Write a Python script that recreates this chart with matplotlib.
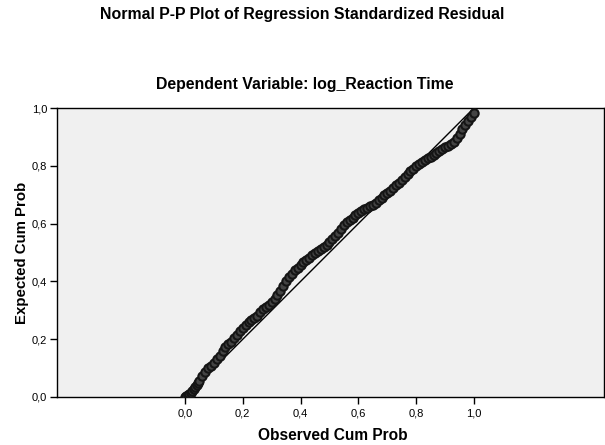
import matplotlib
matplotlib.use("Agg")
import matplotlib.pyplot as plt
from matplotlib.ticker import FuncFormatter

# --- Data ---
observed = [0.000, 0.005, 0.010, 0.015, 0.020, 0.025, 0.030, 0.035, 0.040, 0.045,
            0.050, 0.060, 0.070, 0.080, 0.090, 0.100, 0.110, 0.120, 0.130, 0.140,
            0.150, 0.160, 0.170, 0.180, 0.190, 0.200, 0.210, 0.220, 0.230, 0.240,
            0.250, 0.260, 0.270, 0.280, 0.290, 0.300, 0.310, 0.320, 0.330, 0.340,
            0.350, 0.360, 0.370, 0.380, 0.390, 0.400, 0.410, 0.420, 0.430, 0.440,
            0.450, 0.460, 0.470, 0.480, 0.490, 0.500, 0.510, 0.520, 0.530, 0.540,
            0.550, 0.560, 0.570, 0.580, 0.590, 0.600, 0.610, 0.620, 0.630, 0.640,
            0.650, 0.660, 0.670, 0.680, 0.690, 0.700, 0.710, 0.720, 0.730, 0.740,
            0.750, 0.760, 0.770, 0.780, 0.790, 0.800, 0.810, 0.820, 0.830, 0.840,
            0.850, 0.860, 0.870, 0.880, 0.890, 0.900, 0.910, 0.920, 0.930, 0.940,
            0.950, 0.960, 0.970, 0.980, 0.990, 1.000]
expected = [0.000, 0.003, 0.006, 0.010, 0.014, 0.020, 0.026, 0.033, 0.040, 0.048,
            0.056, 0.072, 0.088, 0.100, 0.108, 0.118, 0.130, 0.143, 0.158, 0.172,
            0.183, 0.192, 0.203, 0.216, 0.228, 0.240, 0.250, 0.258, 0.265, 0.272,
            0.282, 0.295, 0.305, 0.312, 0.320, 0.330, 0.340, 0.352, 0.366, 0.385,
            0.400, 0.414, 0.426, 0.438, 0.446, 0.456, 0.466, 0.474, 0.482, 0.490,
            0.497, 0.504, 0.512, 0.520, 0.527, 0.535, 0.545, 0.556, 0.568, 0.582,
            0.594, 0.604, 0.612, 0.620, 0.630, 0.638, 0.645, 0.650, 0.655, 0.660,
            0.666, 0.673, 0.682, 0.690, 0.698, 0.706, 0.714, 0.722, 0.732, 0.742,
            0.752, 0.762, 0.772, 0.781, 0.790, 0.798, 0.806, 0.814, 0.820, 0.826,
            0.832, 0.838, 0.845, 0.852, 0.858, 0.864, 0.870, 0.876, 0.884, 0.895,
            0.910, 0.926, 0.942, 0.956, 0.968, 0.982]
ref_line = [0.0, 1.0]
ticks = [0.0, 0.2, 0.4, 0.6, 0.8, 1.0]

plt.rcParams['font.family'] = ['Liberation Sans', 'DejaVu Sans']

fig = plt.figure(figsize=(6.05, 4.45), dpi=100)
ax = fig.add_axes([57 / 605, 48 / 445, 547 / 605, 289 / 445])
ax.set_facecolor('#f0f0f0')

ax.plot(ref_line, ref_line, color='black', linewidth=1.0, zorder=2)
ax.scatter(observed, expected, s=36, facecolors='#444444', edgecolors='#151515',
           linewidths=1.5, zorder=3)

ax.set_xlim(-0.443, 1.45)
ax.set_ylim(0, 1)
ax.set_xticks(ticks)
ax.set_yticks(ticks)
comma = FuncFormatter(lambda v, p: f"{v:.1f}".replace('.', ','))
ax.xaxis.set_major_formatter(comma)
ax.yaxis.set_major_formatter(comma)
ax.tick_params(direction='out', length=5, width=1, labelsize=8, colors='black')
ax.tick_params(axis='y', pad=2)

for sp in ax.spines.values():
    sp.set_linewidth(1.0)
    sp.set_color('black')

ax.set_xlabel('Observed Cum Prob', fontsize=11.2, fontweight='bold', va='center')
ax.set_ylabel('Expected Cum Prob', fontsize=10.8, fontweight='bold', va='center')
ax.xaxis.set_label_coords(0.505, -38 / 289)
ax.yaxis.set_label_coords(-35 / 547, 0.5)

fig.text(302 / 605, 1 - 14 / 445, 'Normal P-P Plot of Regression Standardized Residual',
         ha='center', va='center', fontsize=11.4, fontweight='bold')
fig.text(305 / 605, 1 - 84 / 445, 'Dependent Variable: log_Reaction Time',
         ha='center', va='center', fontsize=11.4, fontweight='bold')

fig.savefig('out.png', dpi=100)
